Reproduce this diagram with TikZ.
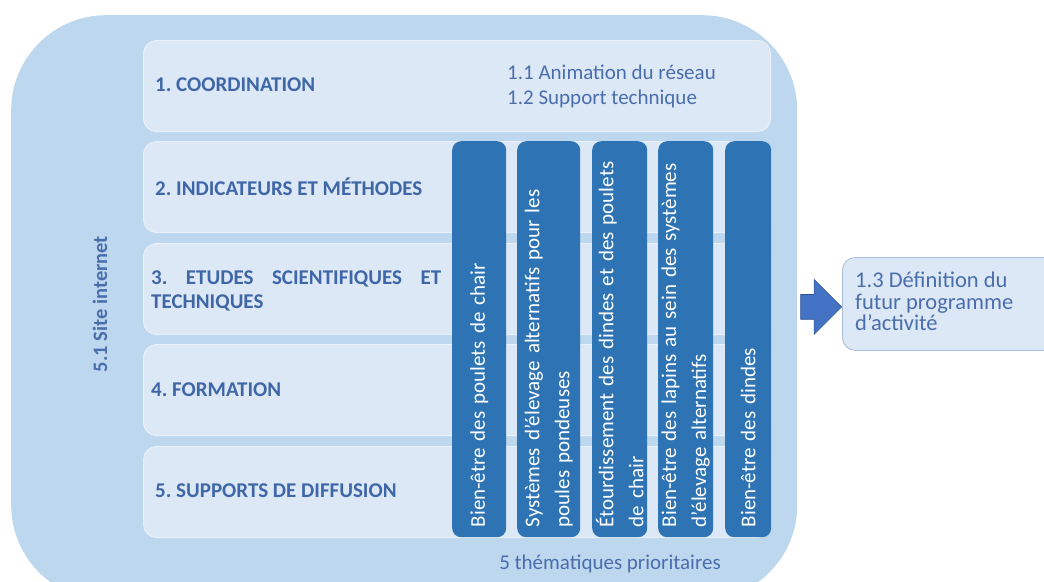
\documentclass[tikz,border=0pt]{standalone}
\usepackage{fontspec}
\setmainfont{Carlito}
\frenchspacing
\usetikzlibrary{shapes.arrows}
\definecolor{outerbg}{HTML}{BDD7EE}
\definecolor{rowbg}{HTML}{DCE8F5}
\definecolor{rowline}{HTML}{E9F0F9}
\definecolor{colbg}{HTML}{2E74B5}
\definecolor{lbl}{HTML}{3F67A8}
\definecolor{lbltxt}{HTML}{4A6EAD}
\definecolor{arrowbl}{HTML}{4472C4}
\definecolor{arrowln}{HTML}{2F528F}
\definecolor{boxline}{HTML}{A7BCD8}
\begin{document}
\begin{tikzpicture}[x=1pt,y=-1pt,
  rowbox/.style={draw=rowline, line width=1pt, fill=rowbg, rounded corners=13pt, minimum width=627pt, minimum height=91pt, anchor=north west, inner sep=0pt},
  rowlabel/.style={font=\fontsize{21}{24}\selectfont\bfseries, text=lbl, anchor=west, inner sep=0pt},
  colbox/.style={fill=colbg, rounded corners=9pt, anchor=north west, minimum height=396pt, inner sep=0pt},
  coltext/.style={rotate=90, font=\fontsize{21}{30}\selectfont, text=white, text width=385pt, align=left, anchor=west, inner sep=0pt},
  plain/.style={font=\fontsize{21}{25}\selectfont, text=lbltxt, inner sep=0pt}
]
\useasboundingbox (0,0) rectangle (1044,581);
\node[fill=outerbg, rounded corners=95pt, minimum width=786pt, minimum height=585pt, anchor=north west, inner sep=0pt] (outer) at (11,15) {};
% rows
\node[rowbox] (r1) at (143,40) {};
\node[rowbox] (r2) at (143,141) {};
\node[rowbox] (r3) at (143,243) {};
\node[rowbox] (r4) at (143,344) {};
\node[rowbox] (r5) at (143,446) {};
\node[rowlabel] (l1) at (155,85) {1. COORDINATION};
\node[rowlabel] (l2) at (155,187) {2. INDICATEURS ET MÉTHODES};
\node[rowlabel, text width=290pt, align=left] (l3) at (151,291) {3.\hfill ETUDES\hfill SCIENTIFIQUES\hfill ET\\TECHNIQUES};
\node[rowlabel] (l4) at (151,390) {4. FORMATION};
\node[rowlabel] (l5) at (155,491) {5. SUPPORTS DE DIFFUSION};
\node[plain, anchor=west, align=left] (sub1) at (507,86) {1.1 Animation du réseau\\1.2 Support technique};
% columns
\node[colbox, minimum width=54pt] (c1) at (452,141) {};
\node[colbox, minimum width=63pt] (c2) at (517,141) {};
\node[colbox, minimum width=55pt] (c3) at (592,141) {};
\node[colbox, minimum width=55pt] (c4) at (658,141) {};
\node[colbox, minimum width=46pt] (c5) at (725,141) {};
\node[coltext] (t1) at ([yshift=10pt]c1.south) {Bien-être des poulets de chair};
\node[coltext] (t2) at ([yshift=10pt]c2.south) {Systèmes d’élevage alternatifs pour les\\poules pondeuses};
\node[coltext] (t3) at ([yshift=10pt]c3.south) {Étourdissement des dindes et des poulets\\de chair};
\node[coltext] (t4) at ([yshift=10pt]c4.south) {Bien-être des lapins au sein des systèmes\\d’élevage alternatifs};
\node[coltext] (t5) at ([yshift=10pt]c5.south) {Bien-être des dindes};
\node[plain] (them) at (610,564) {5 thématiques prioritaires};
\node[plain, rotate=90, font=\fontsize{20.5}{24}\selectfont\bfseries] (site) at (100,304) {5.1 Site internet};
% right box and arrow
\node[draw=boxline, line width=0.8pt, fill=rowbg, rounded corners=13pt, minimum width=230pt, minimum height=93pt, anchor=north west, inner sep=0pt] (def) at (842,257) {};
\node[plain, anchor=north west, align=left, font=\fontsize{22.5}{21.5}\selectfont] (deft) at (855,272) {1.3 Définition du\\futur programme\\d’activité};
\node[single arrow, fill=arrowbl, draw=arrowln, line width=0.6pt, minimum height=41pt, minimum width=55pt, single arrow head extend=15pt, inner sep=12pt, anchor=tip] (arr) at ([yshift=-3pt]def.west) {};
\end{tikzpicture}
\end{document}
